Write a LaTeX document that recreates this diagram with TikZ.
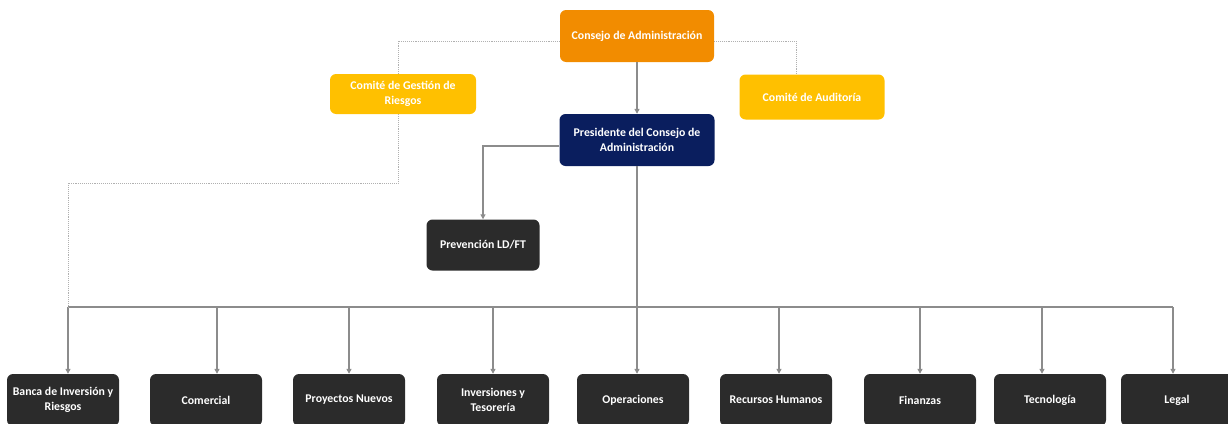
\documentclass[tikz,border=0pt]{standalone}
\usepackage{fontspec}
\setmainfont{Carlito}
\usepackage{tikz}
\usetikzlibrary{arrows.meta, positioning}

\definecolor{boardorange}{HTML}{F28C00}
\definecolor{commyellow}{HTML}{FFC000}
\definecolor{presnavy}{HTML}{0A1E5E}
\definecolor{areadark}{HTML}{2B2B2B}
\definecolor{linegray}{HTML}{8C8C8C}
\definecolor{dotgray}{HTML}{B0B0B0}

\begin{document}
\begin{tikzpicture}[x=1pt, y=-1pt,
        unit/.style={rectangle, rounded corners=6pt, text=white, align=center, inner sep=1pt, font=\bfseries\fontsize{11.8}{15}\selectfont},
        board/.style={unit, fill=boardorange, minimum width=154pt, minimum height=52pt},
        committee/.style={unit, fill=commyellow, minimum width=146pt, minimum height=40pt},
        chair/.style={unit, fill=presnavy, minimum width=155pt, minimum height=52pt},
        area/.style={unit, fill=areadark, minimum width=112pt, minimum height=52pt},
        report_flow/.style={-{Triangle[width=5pt, length=5pt]}, line width=1.2pt, linegray},
        bus_line/.style={line width=1.2pt, linegray},
        advice_link/.style={densely dotted, line width=0.9pt, dotgray}
    ]
    \useasboundingbox (0,0) rectangle (1228,423);

    % top of the chart
    \node[board] (cons) at (637, 36) {Consejo de Administración};
    \node[committee] (gest) at (403, 94) {Comité de Gestión de\\Riesgos};
    \node[committee, minimum width=145pt, minimum height=45pt] (audit) at (812, 97) {Comité de Auditoría};
    \node[chair] (pres) at (637, 140) {Presidente del Consejo de\\Administración};
    \node[area, minimum width=113pt, minimum height=51pt] (prev) at (483, 245) {Prevención LD/FT};

    % areas
    \node[area] (banca) at (63, 400) {Banca de Inversión y\\Riesgos};
    \node[area] (com) at (206, 400) {Comercial};
    \node[area] (proy) at (349, 400) {Proyectos Nuevos};
    \node[area] (inv) at (493, 400) {Inversiones y\\Tesorería};
    \node[area] (oper) at (633, 400) {Operaciones};
    \node[area] (rrhh) at (776, 400) {Recursos Humanos};
    \node[area] (fin) at (920, 400) {Finanzas};
    \node[area] (tec) at (1050, 400) {Tecnología};
    \node[area] (legal) at (1177, 400) {Legal};

    % reporting lines
    \draw[report_flow] (cons) -- (pres);
    \draw[report_flow] ([yshift=-6pt]pres.west) -| (prev.north);
    \draw[report_flow] (pres) -- (pres |- oper.north);

    \coordinate (tbanca) at (68, 307);
    \coordinate (tlegal) at (1173, 307);
    \draw[bus_line] (tbanca) -- (tlegal);
    \foreach \xb/\nm in {68/banca, 217/com, 349/proy, 493/inv, 779/rrhh, 920/fin, 1042/tec, 1173/legal}{
        \coordinate (t\nm) at (\xb, 307);
        \draw[report_flow] (t\nm) -- (t\nm |- \nm.north);
    }

    % committees
    \coordinate (dl) at (68, 183);
    \draw[advice_link] ([yshift=-5pt]cons.west) -| ([xshift=-5pt]gest.north);
    \draw[advice_link] ([xshift=-5pt]gest.south) |- (dl) -- (tbanca);
    \draw[advice_link] ([yshift=-5pt]cons.east) -| ([xshift=-16pt]audit.north);
\end{tikzpicture}
\end{document}
